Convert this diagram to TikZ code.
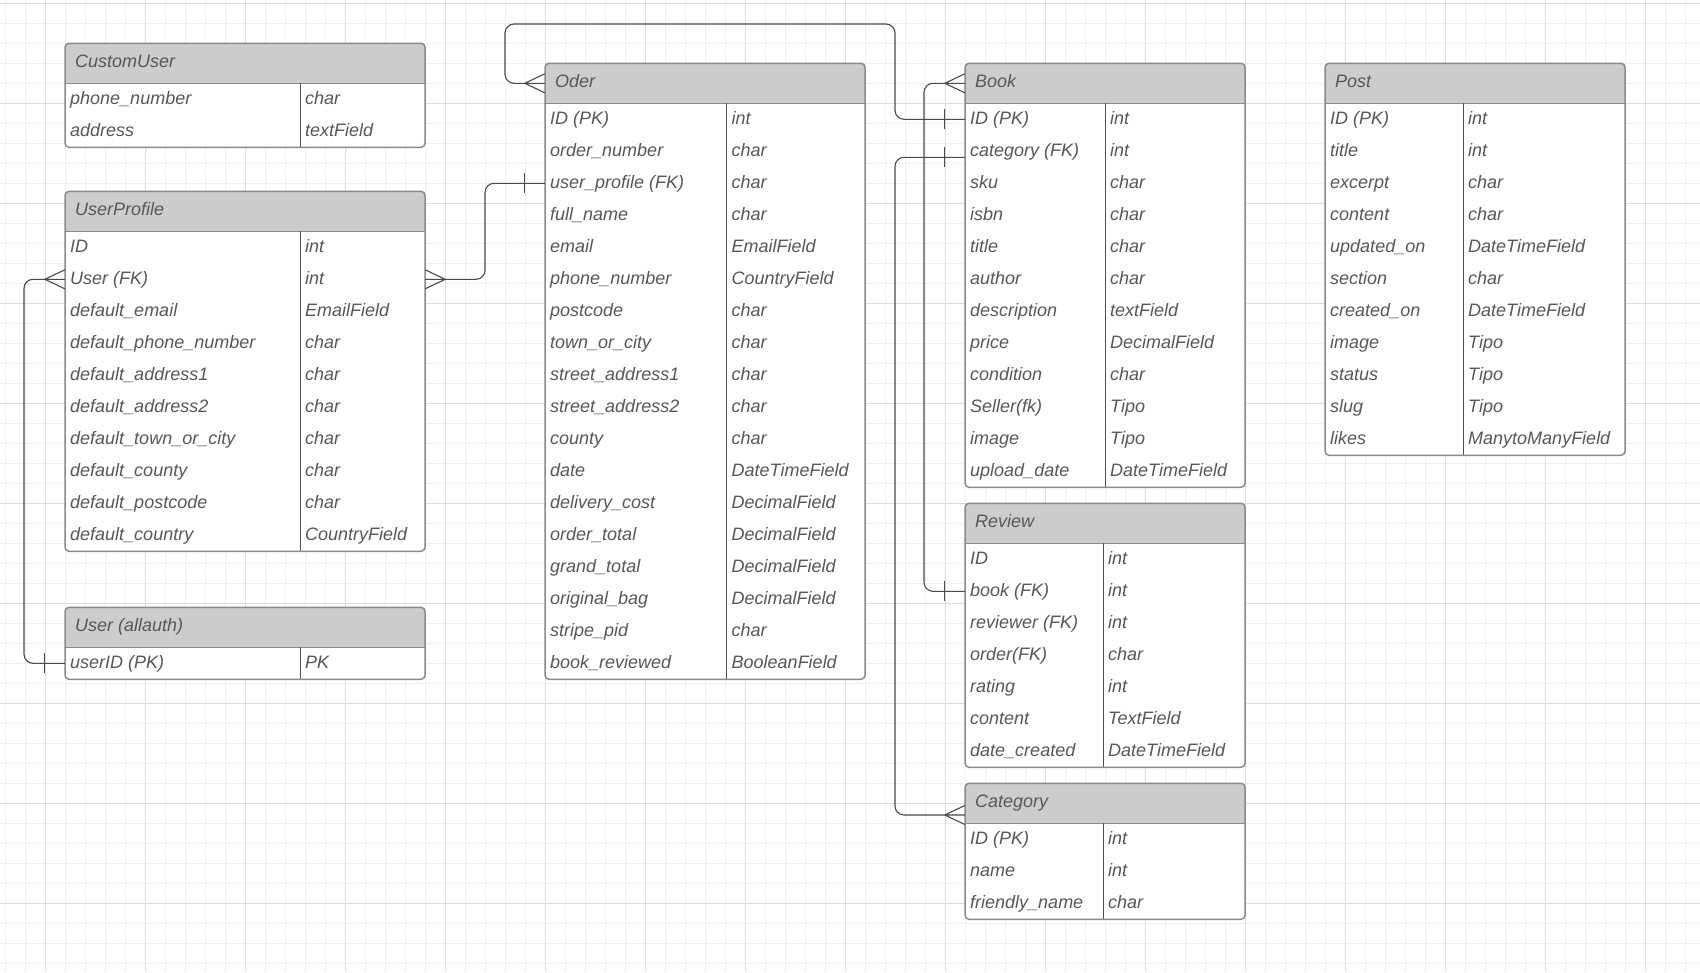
\documentclass[tikz,border=0pt]{standalone}
\usepackage{fontspec}
\setmainfont{Liberation Sans}

\definecolor{txtgray}{HTML}{575757}
\definecolor{hdrgray}{HTML}{CCCCCC}
\definecolor{bordergray}{HTML}{8A8A8A}
\definecolor{divgray}{HTML}{505050}
\definecolor{conngray}{HTML}{4A4A4A}
\definecolor{gridminor}{HTML}{EFEFEF}
\definecolor{gridmajor}{HTML}{DDDDDD}

% One entity table: #1 name, #2 title, #3 left x, #4 column split x,
% #5 right x, #6 top y, #7 list of field/type rows
\newcommand\erdtable[7]{%
  \pgfmathsetmacro\erdw{#5-#3}%
  \pgfmathsetmacro\erdmid{(#3+#5)/2}%
  \foreach \fname/\ftype [count=\i] in {#7}{\xdef\erdn{\i}}%
  \pgfmathsetmacro\erdbot{#6+40+32*\erdn}%
  \fill[white, rounded corners=4pt] (#3,#6) rectangle (#5,\erdbot);
  \fill[hdrgray, rounded corners=4pt] (#3,#6) rectangle (#5,#6+40);
  \fill[hdrgray] (#3,#6+20) rectangle (#5,#6+40);
  \node[hdrbox, minimum width=\erdw pt] (#1) at (\erdmid,#6+20) {};
  \node[tbltext] (#1-title) at (#3+10,#6+24) {#2};
  \foreach \fname/\ftype [count=\i] in {#7}{%
    \pgfmathsetmacro\yc{#6+40+(\i-0.5)*32}%
    \node[rowbox, minimum width=\erdw pt] (#1-\i) at (\erdmid,\yc) {};
    \node[tbltext] (#1-f\i) at (#3+5,\yc+5) {\fname};
    \node[tbltext] (#1-t\i) at (#4+5,\yc+5) {\ftype};
  }
  \draw[tblborder] (#3,#6+40) -- (#5,#6+40);
  \draw[coldiv] (#4,#6+40) -- (#4,\erdbot);
  \draw[tblborder, rounded corners=4pt] (#3,#6) rectangle (#5,\erdbot);
}

\begin{document}
\begin{tikzpicture}[x=1pt, y=-1pt,
  tbltext/.style={anchor=base west, inner sep=0pt, text=txtgray,
    font=\fontsize{18}{20}\selectfont\itshape},
  rowbox/.style={inner sep=0pt, minimum height=32pt, draw=none},
  hdrbox/.style={inner sep=0pt, minimum height=40pt, draw=none},
  tblborder/.style={draw=bordergray, line width=1.5pt},
  coldiv/.style={draw=divgray, line width=1pt},
  conn/.style={draw=conngray, line width=1.1pt, rounded corners=9pt},
  tickline/.style={draw=conngray, line width=1.1pt},
  crow/.pic={\draw[tickline] (-20,0) -- (0,-9.5) (-20,0) -- (0,0) (-20,0) -- (0,9.5);},
  onebar/.pic={\draw[tickline] (-20,-10) -- (-20,10) (-20,0) -- (0,0);}
]
\useasboundingbox (0,0) rectangle (1700,972);
\fill[white] (0,0) rectangle (1700,972);

% background grid
\foreach \k in {0,...,84} {\draw[gridminor, line width=0.8pt] (5+20*\k,0) -- (5+20*\k,972);}
\foreach \k in {0,...,48} {\draw[gridminor, line width=0.8pt] (0,3.33+20*\k) -- (1700,3.33+20*\k);}
\foreach \k in {0,...,16} {\draw[gridmajor, line width=0.9pt] (45+100*\k,0) -- (45+100*\k,972);}
\foreach \k in {0,...,9} {\draw[gridmajor, line width=0.9pt] (0,3.33+100*\k) -- (1700,3.33+100*\k);}

% entity tables
\erdtable{customuser}{CustomUser}{65}{300}{425}{43.3}{%
  phone\_number/char, address/textField}

\erdtable{userprofile}{UserProfile}{65}{300}{425}{191.3}{%
  ID/int, User (FK)/int, default\_email/EmailField,
  default\_phone\_number/char, default\_address1/char, default\_address2/char,
  default\_town\_or\_city/char, default\_county/char, default\_postcode/char,
  default\_country/CountryField}

\erdtable{allauth}{User (allauth)}{65}{300}{425}{607.3}{%
  userID (PK)/PK}

\erdtable{oder}{Oder}{545}{726.5}{865}{63.3}{%
  ID (PK)/int, order\_number/char, user\_profile (FK)/char, full\_name/char,
  email/EmailField, phone\_number/CountryField, postcode/char,
  town\_or\_city/char, street\_address1/char, street\_address2/char,
  county/char, date/DateTimeField, delivery\_cost/DecimalField,
  order\_total/DecimalField, grand\_total/DecimalField,
  original\_bag/DecimalField, stripe\_pid/char, book\_reviewed/BooleanField}

\erdtable{book}{Book}{965}{1105}{1245}{63.3}{%
  ID (PK)/int, category (FK)/int, sku/char, isbn/char, title/char,
  author/char, description/textField, price/DecimalField, condition/char,
  Seller(fk)/Tipo, image/Tipo, upload\_date/DateTimeField}

\erdtable{review}{Review}{965}{1103}{1245}{503.3}{%
  ID/int, book (FK)/int, reviewer (FK)/int, order(FK)/char, rating/int,
  content/TextField, date\_created/DateTimeField}

\erdtable{category}{Category}{965}{1103}{1245}{783.3}{%
  ID (PK)/int, name/int, friendly\_name/char}

\erdtable{post}{Post}{1325}{1463}{1625}{63.3}{%
  ID (PK)/int, title/int, excerpt/char, content/char,
  updated\_on/DateTimeField, section/char, created\_on/DateTimeField,
  image/Tipo, status/Tipo, slug/Tipo, likes/ManytoManyField}

% routing columns for the relationship lines
\coordinate (busW) at (24,0);
\coordinate (busO) at (485,0);
\coordinate (loopL) at (505,24);
\coordinate (loopR) at (895,24);
\coordinate (busB) at (924,0);
\coordinate (catlink) at ([yshift=-11.7pt]category.west);
\coordinate (catfk) at ([yshift=-6pt]book-2.west);

% UserProfile.User  >--|  User (allauth).userID
\draw[conn] ([xshift=-20pt]userprofile-2.west) -| (busW |- allauth-1.west) -- (allauth-1.west);
\path (userprofile-2.west) pic (cfUP) {crow};
\path (allauth-1.west) pic (obUA) {onebar};

% UserProfile  >--|  Oder.user_profile
\draw[conn] ([xshift=20pt]userprofile-2.east) -| (busO |- oder-3.west) -- (oder-3.west);
\path (userprofile-2.east) pic[xscale=-1] (cfUP2) {crow};
\path (oder-3.west) pic (obOD) {onebar};

% Oder  >--|  Book.ID
\draw[conn] ([xshift=-20pt]oder.west) -| (loopL) -- (loopR) |- (book-1.west);
\path (oder.west) pic (cfOD) {crow};
\path (book-1.west) pic (obBK) {onebar};

% Book  >--|  Review.book
\draw[conn] ([xshift=-20pt]book.west) -| (busB |- review-2.west) -- (review-2.west);
\path (book.west) pic (cfBK) {crow};
\path (review-2.west) pic (obRV) {onebar};

% Book.category  |--<  Category
\draw[conn] (catfk) -| (loopR |- catlink) -- ([xshift=-20pt]catlink);
\path (catfk) pic (obBK2) {onebar};
\path (catlink) pic (cfCT) {crow};
\end{tikzpicture}
\end{document}
